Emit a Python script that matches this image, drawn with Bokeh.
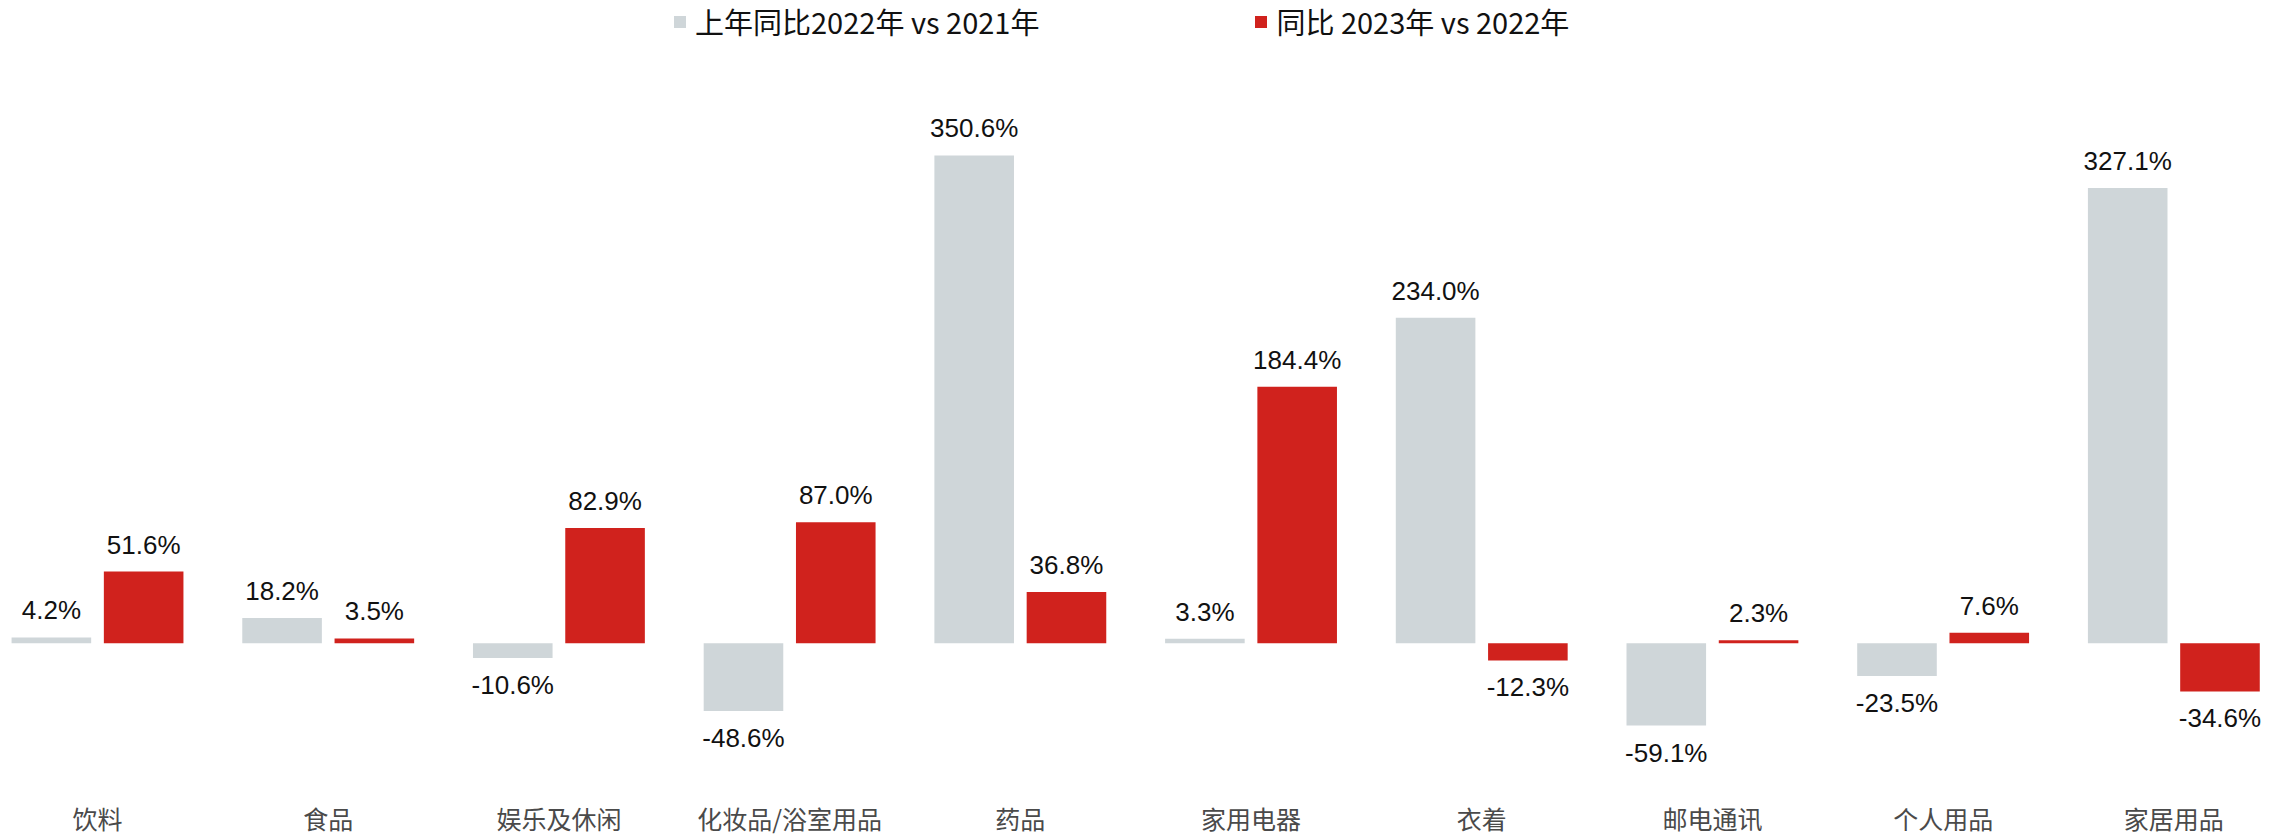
from bokeh.plotting import figure
from bokeh.models import ColumnDataSource, Legend, LegendItem, FixedTicker, Range1d
from bokeh.transform import dodge
from bokeh.core.properties import value
from bokeh.embed import file_html
from bokeh.resources import INLINE

categories = ['饮料', '食品', '娱乐及休闲', '化妆品/浴室用品', '药品', '家用电器', '衣着', '邮电通讯', '个人用品', '家居用品']
prev_yoy = [4.2, 18.2, -10.6, -48.6, 350.6, 3.3, 234.0, -59.1, -23.5, 327.1]
curr_yoy = [51.6, 3.5, 82.9, 87.0, 36.8, 184.4, -12.3, 2.3, 7.6, -34.6]
series_names = ['上年同比2022年 vs 2021年', '同比 2023年 vs 2022年']

GRAY = '#CFD6D9'
RED = '#D0221D'
NUM_FONT = value('Liberation Sans')
CJK_FONT = 'Noto Sans CJK SC'

xs = list(range(len(categories)))
src = ColumnDataSource(dict(
    x=xs,
    prev=prev_yoy,
    curr=curr_yoy,
    prev_lbl=[f'{v:.1f}%' for v in prev_yoy],
    curr_lbl=[f'{v:.1f}%' for v in curr_yoy],
    prev_off=[-27 if v >= 0 else 27 for v in prev_yoy],
    curr_off=[-27 if v >= 0 else 27 for v in curr_yoy],
))

p = figure(width=2288, height=838, output_backend='svg', toolbar_location=None,
           x_range=Range1d(-0.4205, 9.497), y_range=Range1d(-96.4, 461.9),
           min_border_left=0, min_border_right=0, min_border_top=0, min_border_bottom=0)
p.outline_line_color = None
p.grid.visible = False
p.yaxis.visible = False

OFF = 0.2
W = 0.345
r_prev = p.vbar(x=dodge('x', -OFF), top='prev', bottom=0, width=W, source=src,
                fill_color=GRAY, line_color=None)
r_curr = p.vbar(x=dodge('x', OFF), top='curr', bottom=0, width=W, source=src,
                fill_color=RED, line_color=None)

p.text(x=dodge('x', -OFF), y='prev', text='prev_lbl', y_offset='prev_off', source=src,
       text_align='center', text_baseline='middle', text_font=NUM_FONT,
       text_font_size='26px', text_color='#111111')
p.text(x=dodge('x', OFF), y='curr', text='curr_lbl', y_offset='curr_off', source=src,
       text_align='center', text_baseline='middle', text_font=NUM_FONT,
       text_font_size='26px', text_color='#111111')

ax = p.xaxis[0]
ax.ticker = FixedTicker(ticks=xs)
ax.major_label_overrides = {i: c for i, c in zip(xs, categories)}
ax.axis_line_color = None
ax.major_tick_line_color = None
ax.minor_tick_line_color = None
ax.major_tick_out = 0
ax.major_tick_in = 0
ax.major_label_standoff = 22
ax.major_label_text_font = CJK_FONT
ax.major_label_text_font_size = '25px'
ax.major_label_text_color = '#4A4A4A'

legend = Legend(items=[LegendItem(label=series_names[0], renderers=[r_prev]),
                       LegendItem(label=series_names[1], renderers=[r_curr])],
                orientation='horizontal', location=(672, 735),
                glyph_width=15, glyph_height=15, label_standoff=8, spacing=214,
                padding=0, margin=0, border_line_color=None, background_fill_alpha=0,
                label_text_font=CJK_FONT, label_text_font_size='29px',
                label_text_color='#111111', label_height=30)
p.add_layout(legend, 'center')

open('out.html', 'w').write(file_html(p, INLINE))
